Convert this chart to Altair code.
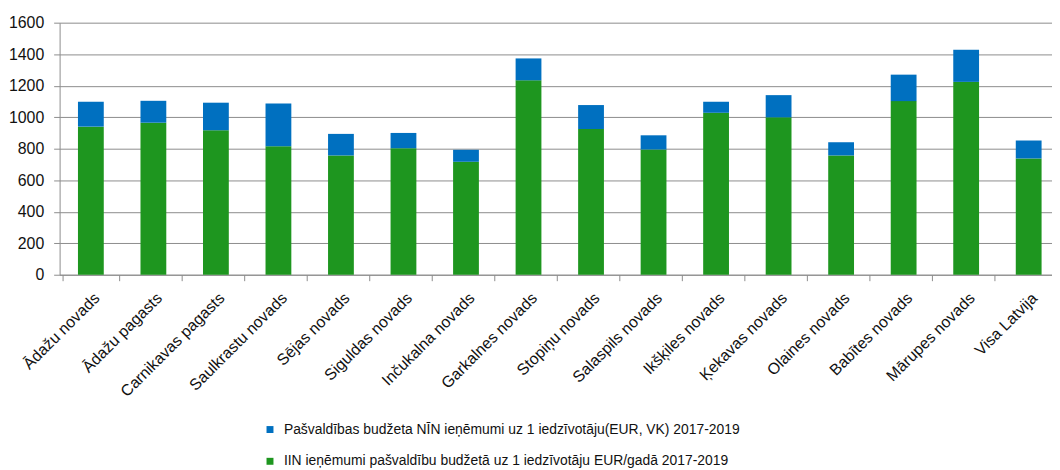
import altair as alt
import pandas as pd

categories = ["Ādažu novads", "Ādažu pagasts", "Carnikavas pagasts", "Saulkrastu novads",
              "Sējas novads", "Siguldas novads", "Inčukalna novads", "Garkalnes novads",
              "Stopiņu novads", "Salaspils novads", "Ikšķiles novads", "Ķekavas novads",
              "Olaines novads", "Babītes novads", "Mārupes novads", "Visa Latvija"]
iin = [940, 965, 917, 816, 757, 803, 717, 1234, 925, 795, 1028, 999, 757, 1102, 1224, 738]
nin = [158, 139, 175, 271, 137, 97, 76, 139, 152, 90, 70, 141, 84, 168, 204, 114]
series_nin = "Pašvaldības budžeta NĪN ieņēmumi uz 1 iedzīvotāju(EUR, VK) 2017-2019"
series_iin = "IIN ieņēmumi pašvaldību budžetā uz 1 iedzīvotāju EUR/gadā  2017-2019"
y_ticks = [0, 200, 400, 600, 800, 1000, 1200, 1400, 1600]

rows = []
for c, g, b in zip(categories, iin, nin):
    rows.append({"cat": c, "series": series_iin, "value": g, "ord": 0})
    rows.append({"cat": c, "series": series_nin, "value": b, "ord": 1})
df = pd.DataFrame(rows)

FONT = "Liberation Sans, Arial, sans-serif"

chart = alt.Chart(df).mark_bar(size=26).encode(
    x=alt.X("cat:N", sort=categories, title=None,
            scale=alt.Scale(range=[0, 1008]),
            axis=alt.Axis(labelAngle=-45, labelFontSize=16, labelColor="#111",
                          labelFont=FONT, tickBand="extent", tickSize=6,
                          tickColor="#8c8c8c", domainColor="#8c8c8c",
                          labelPadding=9, grid=False)),
    y=alt.Y("value:Q", stack="zero", title=None,
            scale=alt.Scale(domain=[0, 1600], nice=False),
            axis=alt.Axis(values=y_ticks, format="d", labelFontSize=16, labelColor="#111",
                          labelFont=FONT, tickSize=6, tickColor="#8c8c8c",
                          domainColor="#8c8c8c", gridColor="#8c8c8c",
                          gridOpacity=1, labelPadding=10)),
    color=alt.Color("series:N",
                    scale=alt.Scale(domain=[series_nin, series_iin],
                                    range=["#0070C0", "#1E961F"]),
                    legend=alt.Legend(title=None, orient="none", legendX=205,
                                      legendY=403, direction="vertical",
                                      symbolType="square", symbolSize=49,
                                      symbolStrokeWidth=0, labelFontSize=14,
                                      labelFont=FONT, labelColor="#111",
                                      rowPadding=18, padding=0, labelOffset=7,
                                      labelLimit=800)),
    order=alt.Order("ord:Q", sort="ascending"),
).properties(
    width=1000, height=254,
    autosize=alt.AutoSizeParams(type="none"),
    padding={"left": 52, "top": 13, "right": 0, "bottom": 196},
).configure_view(stroke=None)

chart.save("out.html", embed_options={"renderer": "svg", "actions": False})
